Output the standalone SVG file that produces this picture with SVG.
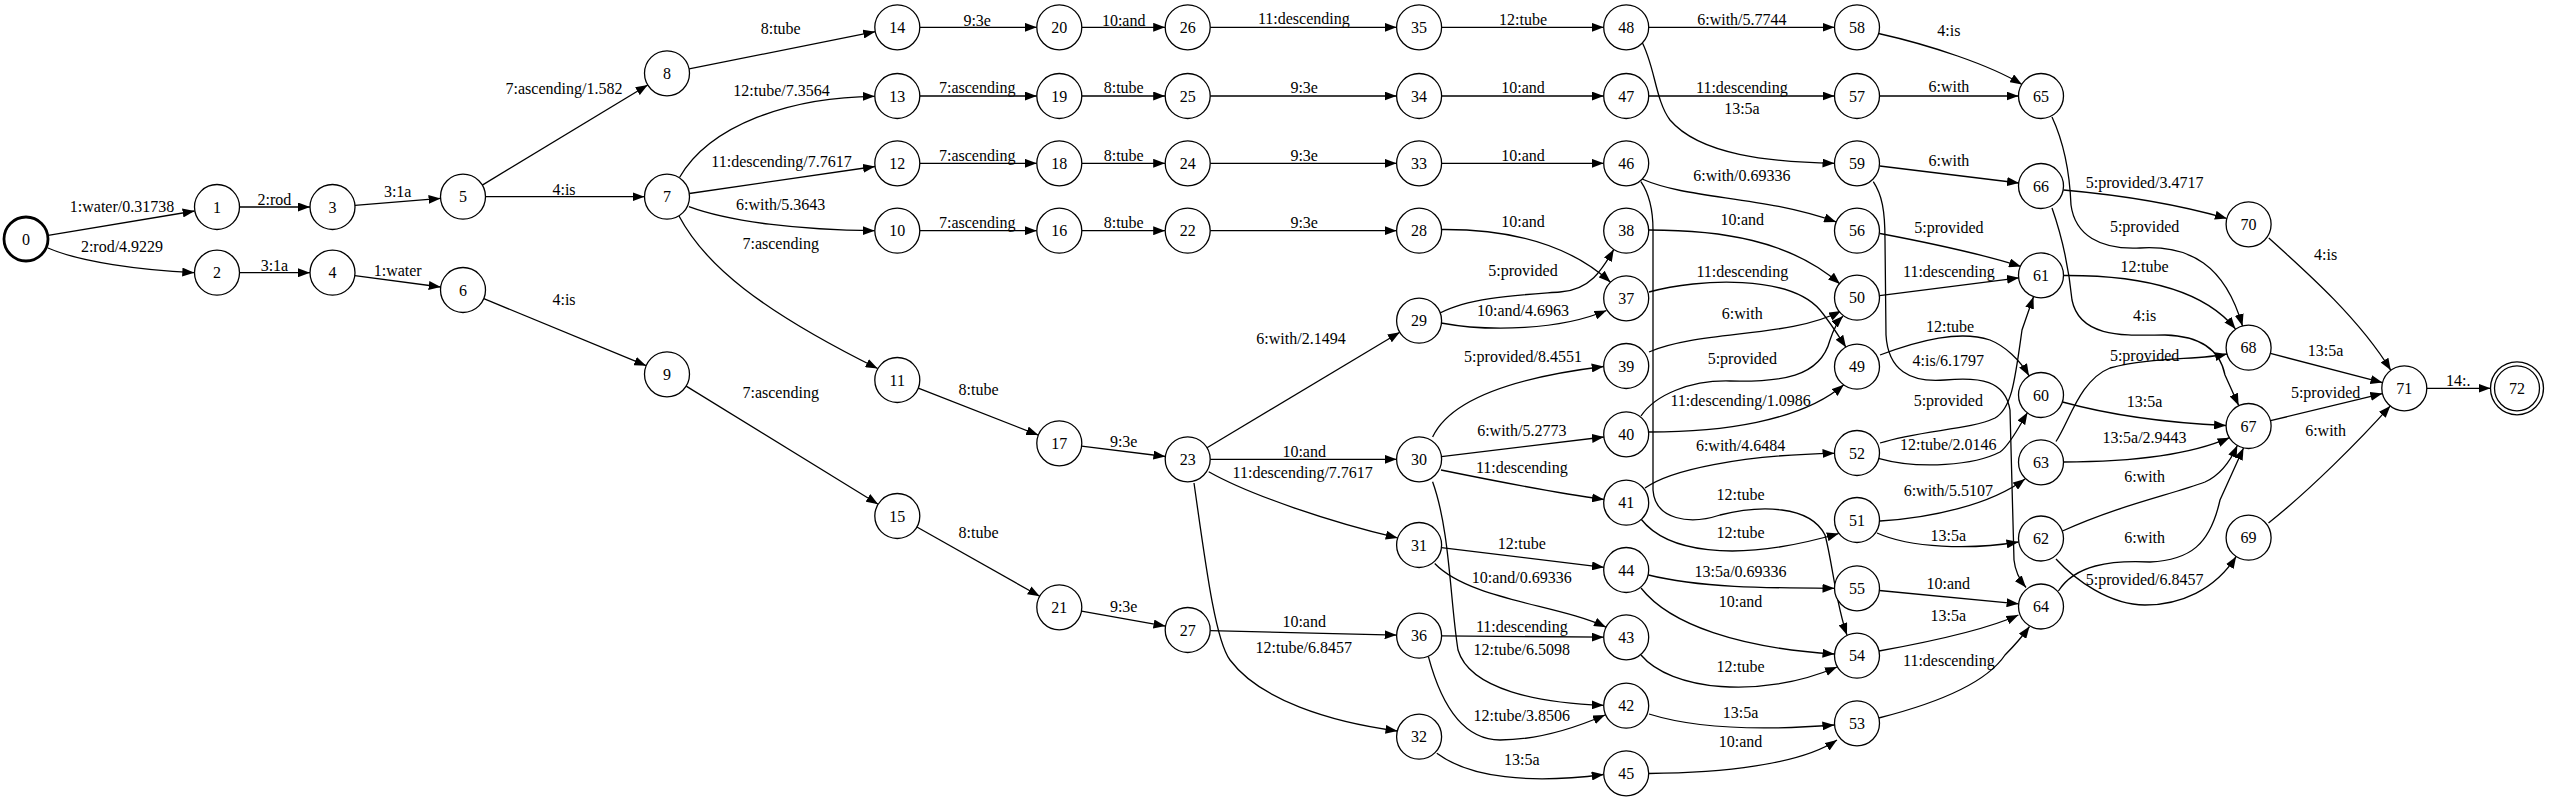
<svg xmlns="http://www.w3.org/2000/svg" width="2550" height="801" viewBox="0 0 2550 801">
<defs>
<marker id="ah" viewBox="0 0 12 9" refX="12" refY="4.5" markerWidth="12" markerHeight="9" markerUnits="userSpaceOnUse" orient="auto"><path d="M0,0 L12,4.5 L0,9 z" fill="#000"/></marker>
<style>
circle{fill:#fff;stroke:#000;stroke-width:1.3}
.b{stroke-width:2.8}
text{font-family:"Liberation Serif","Times New Roman",serif;font-size:16px;fill:#000;text-anchor:middle}
#edges path{fill:none;stroke:#000;stroke-width:1.3;marker-end:url(#ah)}
</style>
</defs>
<rect width="2550" height="801" fill="#fff"/>
<g id="edges">
<g><path d="M48.2,235.3 L194.6,211"/><text x="122" y="211.5">1:water/0.31738</text></g>
<g><path d="M48,248 C80,262 140,270 194.3,272.7"/><text x="122" y="251.5">2:rod/4.9229</text></g>
<g><path d="M239.5,207 L310,207"/><text x="274.4" y="204.8">2:rod</text></g>
<g><path d="M239.5,272.7 L310,272.7"/><text x="274.4" y="271.2">3:1a</text></g>
<g><path d="M354.9,205.3 L440.6,198.4"/><text x="397.7" y="196.5">3:1a</text></g>
<g><path d="M354.8,275.7 L440.7,287"/><text x="397.7" y="275.5">1:water</text></g>
<g><path d="M482.3,185.1 L647.7,85"/><text x="564" y="93.8">7:ascending/1.582</text></g>
<g><path d="M485.5,196.7 L644.5,196.7"/><text x="564" y="194.8">4:is</text></g>
<g><path d="M483.8,298.6 L646.2,365.7"/><text x="564" y="304.8">4:is</text></g>
<g><path d="M679.5,177.5 C710,125 790,97 874.8,96.3"/><text x="781.5" y="96.2">12:tube/7.3564</text></g>
<g><path d="M689.3,193.5 L875,166.5"/><text x="781.5" y="167.2">11:descending/7.7617</text></g>
<g><path d="M688.9,206.7 C730,222 800,230 874.8,230.7"/><text x="780.7" y="209.5">6:with/5.3643</text></g>
<g><path d="M679,216 C705,265 760,310 877.7,368.5"/><text x="780.7" y="248.8">7:ascending</text></g>
<g><path d="M689.1,68.9 L875.2,31.7"/><text x="780.7" y="33.8">8:tube</text></g>
<g><path d="M686.2,386.1 L878.1,504.2"/><text x="780.7" y="398.2">7:ascending</text></g>
<g><path d="M919.8,230.7 L1036.8,230.7"/><text x="977.2" y="228.2">7:ascending</text></g>
<g><path d="M919.8,163.3 L1036.8,163.3"/><text x="977.2" y="160.5">7:ascending</text></g>
<g><path d="M919.8,96 L1036.8,96"/><text x="977.2" y="92.8">7:ascending</text></g>
<g><path d="M919.8,27.3 L1036.8,27.3"/><text x="977.2" y="25.5">9:3e</text></g>
<g><path d="M918.3,388.2 L1038.3,435.1"/><text x="978.5" y="394.8">8:tube</text></g>
<g><path d="M916.9,527 L1039.7,596.3"/><text x="978.5" y="538.2">8:tube</text></g>
<g><path d="M1081.8,230.7 L1165.2,230.7"/><text x="1123.7" y="228.2">8:tube</text></g>
<g><path d="M1081.8,163.3 L1165.2,163.3"/><text x="1123.7" y="160.5">8:tube</text></g>
<g><path d="M1081.8,96 L1165.2,96"/><text x="1123.7" y="92.8">8:tube</text></g>
<g><path d="M1081.8,27.3 L1165.2,27.3"/><text x="1123.7" y="25.5">10:and</text></g>
<g><path d="M1081.6,446.1 L1165.4,456.5"/><text x="1123.7" y="446.5">9:3e</text></g>
<g><path d="M1081.5,611.2 L1165.5,626.1"/><text x="1123.7" y="612.2">9:3e</text></g>
<g><path d="M1210.2,230.7 L1396.6,230.7"/><text x="1304.2" y="228.2">9:3e</text></g>
<g><path d="M1210.2,163.3 L1396.6,163.3"/><text x="1304.2" y="160.5">9:3e</text></g>
<g><path d="M1210.2,96 L1396.6,96"/><text x="1304.2" y="92.8">9:3e</text></g>
<g><path d="M1210.2,27.3 L1396.6,27.3"/><text x="1303.8" y="23.8">11:descending</text></g>
<g><path d="M1207,447.7 L1399.8,332.3"/><text x="1301" y="343.8">6:with/2.1494</text></g>
<g><path d="M1210.2,459.3 L1396.6,459.3"/><text x="1304.2" y="457.2">10:and</text></g>
<g><path d="M1208.7,471.7 C1250,495 1330,522 1397.7,537.9"/><text x="1302.7" y="478.2">11:descending/7.7617</text></g>
<g><path d="M1194,483 C1205,560 1215,640 1230,660 C1260,700 1330,722 1397.5,731"/><text x="1303.8" y="653.2">12:tube/6.8457</text></g>
<g><path d="M1210.2,630.6 L1396.6,635.1"/><text x="1304.2" y="626.5">10:and</text></g>
<g><path d="M1441.5,229.5 C1510,229 1570,245 1610.5,282.2"/><text x="1523" y="227.2">10:and</text></g>
<g><path d="M1440,313 C1470,297 1520,295 1560,292 C1590,290 1602,270 1613.8,249.4"/><text x="1523" y="276.2">5:provided</text></g>
<g><path d="M1441,323 C1490,332 1560,330 1606.5,310.5"/><text x="1523" y="316.2">10:and/4.6963</text></g>
<g><path d="M1432.6,437 C1450,400 1510,378 1603.7,366.5"/><text x="1523" y="361.5">5:provided/8.4551</text></g>
<g><path d="M1441.4,456.6 L1603.9,437"/><text x="1521.8" y="436.2">6:with/5.2773</text></g>
<g><path d="M1441,470 C1490,480 1550,492 1604,499.5"/><text x="1521.8" y="472.8">11:descending</text></g>
<g><path d="M1432.6,481.7 C1450,530 1450,600 1458,650 C1470,690 1540,703 1603.7,705.3"/><text x="1521.8" y="654.8">12:tube/6.5098</text></g>
<g><path d="M1441.4,547.7 L1603.9,567.3"/><text x="1521.8" y="548.8">12:tube</text></g>
<g><path d="M1434.7,563.5 C1470,600 1560,605 1606,627.2"/><text x="1521.8" y="583.2">10:and/0.69336</text></g>
<g><path d="M1441.6,635.8 L1603.7,637.2"/><text x="1521.8" y="632.2">11:descending</text></g>
<g><path d="M1428.4,656.7 C1440,700 1460,740 1500,740 C1540,740 1575,728 1605,715"/><text x="1521.8" y="720.5">12:tube/3.8506</text></g>
<g><path d="M1436.8,753.3 C1470,778 1530,784 1603.7,774.5"/><text x="1521.8" y="764.8">13:5a</text></g>
<g><path d="M1441.6,163.3 L1603.7,163.3"/><text x="1523" y="160.5">10:and</text></g>
<g><path d="M1441.6,96 L1603.7,96"/><text x="1523" y="92.8">10:and</text></g>
<g><path d="M1441.6,27.3 L1603.7,27.3"/><text x="1523" y="24.5">12:tube</text></g>
<g><path d="M1640.9,181.7 C1650,195 1653,210 1653,230 L1653,490 C1655,520 1690,525 1720,515 C1760,505 1810,505 1825,535 C1832,560 1836,605 1847,635"/><text x="1740.6" y="499.5">12:tube</text></g>
<g><path d="M1642,179 C1690,200 1760,195 1836.1,221.9"/><text x="1741.9" y="180.5">6:with/0.69336</text></g>
<g><path d="M1648.7,27.3 L1834.5,27.3"/><text x="1741.9" y="24.5">6:with/5.7744</text></g>
<g><path d="M1640.9,40 C1655,65 1655,100 1670,120 C1700,155 1770,162 1834.5,163.3"/><text x="1741.9" y="113.8">13:5a</text></g>
<g><path d="M1648.7,96 L1834.5,96"/><text x="1741.9" y="92.8">11:descending</text></g>
<g><path d="M1649,230 C1720,230 1790,240 1840,284"/><text x="1742.3" y="224.8">10:and</text></g>
<g><path d="M1649,292 C1700,278 1790,275 1820,310 C1830,322 1838,335 1846,347.3"/><text x="1742.3" y="277.2">11:descending</text></g>
<g><path d="M1649,352 C1700,330 1790,338 1841,311"/><text x="1742.3" y="318.8">6:with</text></g>
<g><path d="M1641,416 C1655,395 1690,380 1730,381 C1780,382 1820,378 1830,340 C1834,328 1838,321 1843,316"/><text x="1742.3" y="363.8">5:provided</text></g>
<g><path d="M1649,432 C1720,432 1800,422 1843.8,384.7"/><text x="1740.6" y="405.5">11:descending/1.0986</text></g>
<g><path d="M1645,488 C1670,470 1740,455 1834.5,453.3"/><text x="1740.6" y="450.5">6:with/4.6484</text></g>
<g><path d="M1641,519 C1665,550 1730,565 1838.8,533.5"/><text x="1740.6" y="538.2">12:tube</text></g>
<g><path d="M1648.5,575 C1700,588 1770,588 1834.5,588.3"/><text x="1740.6" y="577.2">13:5a/0.69336</text></g>
<g><path d="M1641,588 C1670,625 1740,648 1834.5,654"/><text x="1740.6" y="607.2">10:and</text></g>
<g><path d="M1641,655 C1670,690 1760,700 1837,667"/><text x="1740.6" y="672.2">12:tube</text></g>
<g><path d="M1649,714 C1700,730 1770,730 1834.4,725"/><text x="1740.6" y="718.2">13:5a</text></g>
<g><path d="M1648.7,773.5 C1720,773 1800,765 1837,740"/><text x="1740.6" y="747.2">10:and</text></g>
<g><path d="M1878.5,33.5 C1930,45 1990,65 2022,84.5"/><text x="1948.9" y="35.5">4:is</text></g>
<g><path d="M1879.5,96 L2018.5,96"/><text x="1948.9" y="92.2">6:with</text></g>
<g><path d="M1879.7,166 L2019,183"/><text x="1948.9" y="165.5">6:with</text></g>
<g><path d="M1880,233.5 C1930,243 1985,255 2021,266.5"/><text x="1948.9" y="233.2">5:provided</text></g>
<g><path d="M1879.6,295.7 L2019,277.8"/><text x="1948.9" y="277.2">11:descending</text></g>
<g><path d="M1880,355 C1920,340 1960,330 1990,340 C2005,346 2020,360 2029,375.8"/><text x="1950" y="332.2">12:tube</text></g>
<g><path d="M1873.3,181.7 C1882,195 1885,210 1885,240 L1886,335 C1888,370 1910,383 1945,380 C1980,377 2005,380 2010,410 L2014,560 C2015,570 2018,578 2026,587.5"/><text x="1948.3" y="366.2">4:is/6.1797</text></g>
<g><path d="M1880,443 C1920,430 1970,430 1995,418 C2012,408 2015,380 2022,330 L2033.5,296.8"/><text x="1948.3" y="405.5">5:provided</text></g>
<g><path d="M1878.3,458.3 C1920,470 1975,465 2000,452 C2010,445 2020,425 2027.5,412.5"/><text x="1948.3" y="449.5">12:tube/2.0146</text></g>
<g><path d="M1880,521 C1930,518 1990,505 2025,478.9"/><text x="1948.3" y="495.5">6:with/5.5107</text></g>
<g><path d="M1877,533 C1910,548 1970,550 2018.5,542"/><text x="1948.3" y="540.5">13:5a</text></g>
<g><path d="M1879.3,590.5 L2018.6,603.8"/><text x="1948.3" y="588.8">10:and</text></g>
<g><path d="M1879,651 C1940,640 1990,628 2018.4,615"/><text x="1948.3" y="620.5">13:5a</text></g>
<g><path d="M1878.7,718 C1930,705 1985,685 2005,655 C2015,645 2022,637 2029.5,626.5"/><text x="1948.9" y="666.2">11:descending</text></g>
<g><path d="M2052,117 C2065,145 2070,180 2071,205 C2075,235 2100,250 2140,248 C2190,245 2225,265 2242.5,326"/><text x="2144.6" y="231.5">5:provided</text></g>
<g><path d="M2063.5,190 C2120,195 2180,205 2226.9,218.5"/><text x="2144.6" y="188.2">5:provided/3.4717</text></g>
<g><path d="M2052,208 C2065,245 2070,280 2072,300 C2080,340 2130,335 2165,335 C2200,336 2220,350 2225,375 L2238.7,405.5"/><text x="2144.6" y="320.5">4:is</text></g>
<g><path d="M2063,275.5 C2130,275 2200,285 2235.5,329"/><text x="2144.6" y="271.5">12:tube</text></g>
<g><path d="M2056,441.5 C2070,420 2080,380 2110,368 C2150,357 2200,360 2227,354"/><text x="2144.6" y="360.5">5:provided</text></g>
<g><path d="M2062.5,402 C2110,415 2170,423 2226.1,425.5"/><text x="2144.6" y="406.5">13:5a</text></g>
<g><path d="M2063.2,462 C2130,462 2190,455 2229.5,437.7"/><text x="2144.6" y="443.2">13:5a/2.9443</text></g>
<g><path d="M2062.5,531 C2120,505 2170,495 2205,482 C2220,475 2230,462 2237.3,445.4"/><text x="2144.6" y="481.5">6:with</text></g>
<g><path d="M2058.4,591 C2075,565 2110,560 2150,562 C2190,560 2210,545 2220,500 L2243.5,448"/><text x="2144.6" y="543.2">6:with</text></g>
<g><path d="M2056,559 C2075,580 2110,605 2145,605 C2180,605 2215,590 2236.2,556.4"/><text x="2144.6" y="584.8">5:provided/6.8457</text></g>
<g><path d="M2268.8,238 C2310,275 2360,320 2390.8,370.3"/><text x="2325.6" y="259.5">4:is</text></g>
<g><path d="M2270.4,353.4 L2382.5,382.6"/><text x="2325.6" y="355.5">13:5a</text></g>
<g><path d="M2270.5,420.7 L2382.4,393.6"/><text x="2325.6" y="398.2">5:provided</text></g>
<g><path d="M2268.5,523 C2310,490 2360,440 2390.3,405.9"/><text x="2325.6" y="436.2">6:with</text></g>
<g><path d="M2426.8,388.3 L2490.5,388.3"/><text x="2458.2" y="385.5">14:.</text></g>
</g>
<g id="node0"><circle class="b" cx="26" cy="239" r="22"/><text x="26" y="244.5">0</text></g>
<g id="node1"><circle cx="217" cy="207" r="22.5"/><text x="217" y="212.5">1</text></g>
<g id="node2"><circle cx="217" cy="272.7" r="22.5"/><text x="217" y="278.2">2</text></g>
<g id="node3"><circle cx="332.5" cy="207" r="22.5"/><text x="332.5" y="212.5">3</text></g>
<g id="node4"><circle cx="332.5" cy="272.7" r="22.5"/><text x="332.5" y="278.2">4</text></g>
<g id="node5"><circle cx="463" cy="196.7" r="22.5"/><text x="463" y="202.2">5</text></g>
<g id="node6"><circle cx="463" cy="290" r="22.5"/><text x="463" y="295.5">6</text></g>
<g id="node7"><circle cx="667" cy="196.7" r="22.5"/><text x="667" y="202.2">7</text></g>
<g id="node8"><circle cx="667" cy="73.3" r="22.5"/><text x="667" y="78.8">8</text></g>
<g id="node9"><circle cx="667" cy="374.3" r="22.5"/><text x="667" y="379.8">9</text></g>
<g id="node10"><circle cx="897.3" cy="230.7" r="22.5"/><text x="897.3" y="236.2">10</text></g>
<g id="node11"><circle cx="897.3" cy="380" r="22.5"/><text x="897.3" y="385.5">11</text></g>
<g id="node12"><circle cx="897.3" cy="163.3" r="22.5"/><text x="897.3" y="168.8">12</text></g>
<g id="node13"><circle cx="897.3" cy="96" r="22.5"/><text x="897.3" y="101.5">13</text></g>
<g id="node14"><circle cx="897.3" cy="27.3" r="22.5"/><text x="897.3" y="32.8">14</text></g>
<g id="node15"><circle cx="897.3" cy="516" r="22.5"/><text x="897.3" y="521.5">15</text></g>
<g id="node16"><circle cx="1059.3" cy="230.7" r="22.5"/><text x="1059.3" y="236.2">16</text></g>
<g id="node17"><circle cx="1059.3" cy="443.3" r="22.5"/><text x="1059.3" y="448.8">17</text></g>
<g id="node18"><circle cx="1059.3" cy="163.3" r="22.5"/><text x="1059.3" y="168.8">18</text></g>
<g id="node19"><circle cx="1059.3" cy="96" r="22.5"/><text x="1059.3" y="101.5">19</text></g>
<g id="node20"><circle cx="1059.3" cy="27.3" r="22.5"/><text x="1059.3" y="32.8">20</text></g>
<g id="node21"><circle cx="1059.3" cy="607.3" r="22.5"/><text x="1059.3" y="612.8">21</text></g>
<g id="node22"><circle cx="1187.7" cy="230.7" r="22.5"/><text x="1187.7" y="236.2">22</text></g>
<g id="node23"><circle cx="1187.7" cy="459.3" r="22.5"/><text x="1187.7" y="464.8">23</text></g>
<g id="node24"><circle cx="1187.7" cy="163.3" r="22.5"/><text x="1187.7" y="168.8">24</text></g>
<g id="node25"><circle cx="1187.7" cy="96" r="22.5"/><text x="1187.7" y="101.5">25</text></g>
<g id="node26"><circle cx="1187.7" cy="27.3" r="22.5"/><text x="1187.7" y="32.8">26</text></g>
<g id="node27"><circle cx="1187.7" cy="630" r="22.5"/><text x="1187.7" y="635.5">27</text></g>
<g id="node28"><circle cx="1419.1" cy="230.7" r="22.5"/><text x="1419.1" y="236.2">28</text></g>
<g id="node29"><circle cx="1419.1" cy="320.7" r="22.5"/><text x="1419.1" y="326.2">29</text></g>
<g id="node30"><circle cx="1419.1" cy="459.3" r="22.5"/><text x="1419.1" y="464.8">30</text></g>
<g id="node31"><circle cx="1419.1" cy="545" r="22.5"/><text x="1419.1" y="550.5">31</text></g>
<g id="node32"><circle cx="1419.1" cy="736.7" r="22.5"/><text x="1419.1" y="742.2">32</text></g>
<g id="node33"><circle cx="1419.1" cy="163.3" r="22.5"/><text x="1419.1" y="168.8">33</text></g>
<g id="node34"><circle cx="1419.1" cy="96" r="22.5"/><text x="1419.1" y="101.5">34</text></g>
<g id="node35"><circle cx="1419.1" cy="27.3" r="22.5"/><text x="1419.1" y="32.8">35</text></g>
<g id="node36"><circle cx="1419.1" cy="635.7" r="22.5"/><text x="1419.1" y="641.2">36</text></g>
<g id="node37"><circle cx="1626.2" cy="298.3" r="22.5"/><text x="1626.2" y="303.8">37</text></g>
<g id="node38"><circle cx="1626.2" cy="230.7" r="22.5"/><text x="1626.2" y="236.2">38</text></g>
<g id="node39"><circle cx="1626.2" cy="366" r="22.5"/><text x="1626.2" y="371.5">39</text></g>
<g id="node40"><circle cx="1626.2" cy="434.3" r="22.5"/><text x="1626.2" y="439.8">40</text></g>
<g id="node41"><circle cx="1626.2" cy="502.7" r="22.5"/><text x="1626.2" y="508.2">41</text></g>
<g id="node42"><circle cx="1626.2" cy="705.7" r="22.5"/><text x="1626.2" y="711.2">42</text></g>
<g id="node43"><circle cx="1626.2" cy="637.3" r="22.5"/><text x="1626.2" y="642.8">43</text></g>
<g id="node44"><circle cx="1626.2" cy="570" r="22.5"/><text x="1626.2" y="575.5">44</text></g>
<g id="node45"><circle cx="1626.2" cy="773.3" r="22.5"/><text x="1626.2" y="778.8">45</text></g>
<g id="node46"><circle cx="1626.2" cy="163.3" r="22.5"/><text x="1626.2" y="168.8">46</text></g>
<g id="node47"><circle cx="1626.2" cy="96" r="22.5"/><text x="1626.2" y="101.5">47</text></g>
<g id="node48"><circle cx="1626.2" cy="27.3" r="22.5"/><text x="1626.2" y="32.8">48</text></g>
<g id="node49"><circle cx="1857" cy="366.7" r="22.5"/><text x="1857" y="372.2">49</text></g>
<g id="node50"><circle cx="1857" cy="297.7" r="22.5"/><text x="1857" y="303.2">50</text></g>
<g id="node51"><circle cx="1857" cy="520" r="22.5"/><text x="1857" y="525.5">51</text></g>
<g id="node52"><circle cx="1857" cy="453" r="22.5"/><text x="1857" y="458.5">52</text></g>
<g id="node53"><circle cx="1857" cy="723.3" r="22.5"/><text x="1857" y="728.8">53</text></g>
<g id="node54"><circle cx="1857" cy="655.7" r="22.5"/><text x="1857" y="661.2">54</text></g>
<g id="node55"><circle cx="1857" cy="588.3" r="22.5"/><text x="1857" y="593.8">55</text></g>
<g id="node56"><circle cx="1857" cy="230.7" r="22.5"/><text x="1857" y="236.2">56</text></g>
<g id="node57"><circle cx="1857" cy="96" r="22.5"/><text x="1857" y="101.5">57</text></g>
<g id="node58"><circle cx="1857" cy="27.3" r="22.5"/><text x="1857" y="32.8">58</text></g>
<g id="node59"><circle cx="1857" cy="163.3" r="22.5"/><text x="1857" y="168.8">59</text></g>
<g id="node60"><circle cx="2041" cy="395" r="22.5"/><text x="2041" y="400.5">60</text></g>
<g id="node61"><circle cx="2041" cy="275.3" r="22.5"/><text x="2041" y="280.8">61</text></g>
<g id="node62"><circle cx="2041" cy="538.5" r="22.5"/><text x="2041" y="544">62</text></g>
<g id="node63"><circle cx="2041" cy="462.3" r="22.5"/><text x="2041" y="467.8">63</text></g>
<g id="node64"><circle cx="2041" cy="606.5" r="22.5"/><text x="2041" y="612">64</text></g>
<g id="node65"><circle cx="2041" cy="96" r="22.5"/><text x="2041" y="101.5">65</text></g>
<g id="node66"><circle cx="2041" cy="186" r="22.5"/><text x="2041" y="191.5">66</text></g>
<g id="node67"><circle cx="2248.6" cy="426" r="22.5"/><text x="2248.6" y="431.5">67</text></g>
<g id="node68"><circle cx="2248.6" cy="347.7" r="22.5"/><text x="2248.6" y="353.2">68</text></g>
<g id="node69"><circle cx="2248.6" cy="537.7" r="22.5"/><text x="2248.6" y="543.2">69</text></g>
<g id="node70"><circle cx="2248.6" cy="224.3" r="22.5"/><text x="2248.6" y="229.8">70</text></g>
<g id="node71"><circle cx="2404.3" cy="388.3" r="22.5"/><text x="2404.3" y="393.8">71</text></g>
<g id="node72"><circle cx="2517" cy="388.3" r="26.5"/><circle cx="2517" cy="388.3" r="22.5"/><text x="2517" y="393.8">72</text></g>
</svg>
